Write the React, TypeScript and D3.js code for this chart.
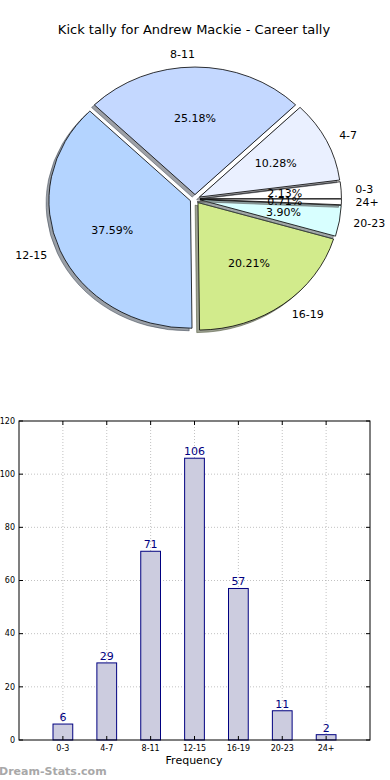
import React from "react";
import * as d3 from "d3";

// kick tally data
const bins = ["0-3", "4-7", "8-11", "12-15", "16-19", "20-23", "24+"];
const tally = [6, 29, 71, 106, 57, 11, 2];
const sliceColors = ["#ffffff", "#eaf0ff", "#c4d8ff", "#b4d4ff", "#d2eb8c", "#d8ffff", "#ffffff"];
const yTicks = [0, 20, 40, 60, 80, 100, 120];

const font = "DejaVu Sans, Verdana, sans-serif";

const App = () => {
  const width = 390;
  const height = 780;

  // Pie (elliptical, like an un-equal matplotlib axes)
  const cx = 195;
  const cy = 199;
  const rx = 141.5;
  const ry = 127.5;
  const k = ry / rx;
  const explode = 0.035;
  const total = d3.sum(tally);

  const pie = d3
    .pie<number>()
    .value((d) => d)
    .sort(null)
    .startAngle(Math.PI / 2)
    .endAngle(Math.PI / 2 - 2 * Math.PI);
  const slices = pie(tally);
  const arc = d3.arc<d3.PieArcDatum<number>>().innerRadius(0).outerRadius(rx);

  const polar = (a: number, r: number) => [Math.sin(a) * r, -Math.cos(a) * r];

  // Bar chart
  const x = d3.scaleLinear().domain([-1, 7]).range([19, 370]);
  const y = d3.scaleLinear().domain([0, 120]).range([740, 421]);
  const barW = x(0.45) - x(0);

  return (
    <div style={{ position: "absolute", left: 0, top: 0 }}>
      <svg width={width} height={height} style={{ display: "block", background: "#fff" }} fontFamily={font}>
        <text x={194} y={34} textAnchor="middle" fontSize={13} fill="#000">
          Kick tally for Andrew Mackie - Career tally
        </text>

        <g transform={`translate(${cx},${cy}) scale(1,${k})`}>
          {slices.map((s, i) => {
            const mid = (s.startAngle + s.endAngle) / 2;
            const [ox, oy] = polar(mid, explode * rx);
            const c = d3.rgb(sliceColors[i]);
            const shade = d3.rgb(c.r * 0.3, c.g * 0.3, c.b * 0.3).toString();
            return (
              <g key={bins[i]} transform={`translate(${ox},${oy})`}>
                <path
                  d={arc(s) || ""}
                  transform={`translate(${-0.02 * rx},${0.02 * rx})`}
                  fill={shade}
                  fillOpacity={0.5}
                  stroke={shade}
                  strokeOpacity={0.5}
                  strokeWidth={1}
                  vectorEffect="non-scaling-stroke"
                />
                <path
                  d={arc(s) || ""}
                  fill={sliceColors[i]}
                  stroke="#000"
                  strokeWidth={0.8}
                  vectorEffect="non-scaling-stroke"
                />
              </g>
            );
          })}
        </g>

        {slices.map((s, i) => {
          const mid = (s.startAngle + s.endAngle) / 2;
          const [lx, ly] = polar(mid, (explode + 1.1) * rx);
          const [px, py] = polar(mid, (explode + 0.6) * rx);
          return (
            <g key={"lbl" + bins[i]} fontSize={11} fill="#000">
              <text
                x={cx + lx}
                y={cy + ly * k}
                dy="0.35em"
                textAnchor={lx < 1 ? "end" : "start"}
              >
                {bins[i]}
              </text>
              <text x={cx + px} y={cy + py * k} dy="0.35em" textAnchor="middle">
                {((tally[i] / total) * 100).toFixed(2) + "%"}
              </text>
            </g>
          );
        })}

        {/* bar chart */}
        <g>
          {yTicks.slice(1, -1).map((t) => (
            <line key={"gy" + t} x1={x(-1)} x2={x(7)} y1={y(t)} y2={y(t)} stroke="#999" strokeWidth={0.6} strokeDasharray="1,2" />
          ))}
          {bins.map((b, i) => (
            <line key={"gx" + b} x1={x(i)} x2={x(i)} y1={y(0)} y2={y(120)} stroke="#999" strokeWidth={0.6} strokeDasharray="1,2" />
          ))}
          {tally.map((v, i) => (
            <g key={"bar" + bins[i]}>
              <rect
                x={x(i) - barW / 2}
                y={y(v)}
                width={barW}
                height={y(0) - y(v)}
                fill="#ccccdf"
                stroke="#000080"
                strokeWidth={1}
              />
              <text x={x(i)} y={y(v) - 3} textAnchor="middle" fontSize={11} fill="#000080">
                {v}
              </text>
            </g>
          ))}
          <rect x={x(-1)} y={y(120)} width={x(7) - x(-1)} height={y(0) - y(120)} fill="none" stroke="#000" strokeWidth={1} />
          {yTicks.map((t) => (
            <g key={"ty" + t}>
              <line x1={x(-1)} x2={x(-1) + 4} y1={y(t)} y2={y(t)} stroke="#000" />
              <line x1={x(7)} x2={x(7) - 4} y1={y(t)} y2={y(t)} stroke="#000" />
              <text x={x(-1) - 4} y={y(t)} dy="0.35em" textAnchor="end" fontSize={8} fill="#000">
                {t}
              </text>
            </g>
          ))}
          {bins.map((b, i) => (
            <g key={"tx" + b}>
              <line x1={x(i)} x2={x(i)} y1={y(0)} y2={y(0) - 4} stroke="#000" />
              <line x1={x(i)} x2={x(i)} y1={y(120)} y2={y(120) + 4} stroke="#000" />
              <text x={x(i)} y={y(0) + 11} textAnchor="middle" fontSize={8} fill="#000">
                {b}
              </text>
            </g>
          ))}
          <text x={194} y={764} textAnchor="middle" fontSize={11} fill="#000">
            Frequency
          </text>
        </g>

        <text x={-1} y={775} fontSize={11} fontWeight="bold" fill="#a8a8a8">
          Dream-Stats.com
        </text>
      </svg>
    </div>
  );
};

export default App;
